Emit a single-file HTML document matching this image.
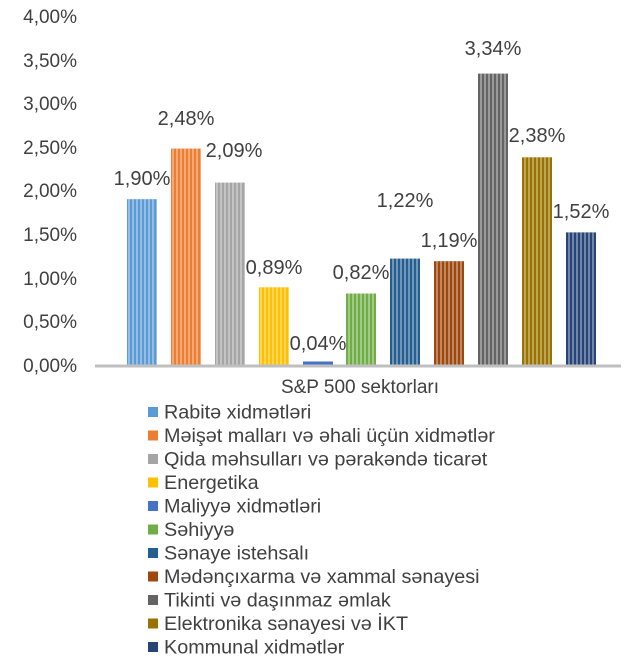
<!DOCTYPE html>
<html><head><meta charset="utf-8"><style>
body{margin:0;background:#fff;width:641px;height:661px;overflow:hidden;}
</style></head><body>
<svg width="641" height="661" xmlns="http://www.w3.org/2000/svg" font-family="Liberation Sans, sans-serif" fill="#404040">
<defs>
<pattern id="st" width="4" height="10" patternUnits="userSpaceOnUse"><rect width="2" height="10" fill="#fff" opacity="0.35"/></pattern>
</defs>
<g font-size="19" text-anchor="end">
<text x="77" y="23">4,00%</text><text x="77" y="67">3,50%</text><text x="77" y="110">3,00%</text>
<text x="77" y="154">2,50%</text><text x="77" y="197">2,00%</text><text x="77" y="241">1,50%</text>
<text x="77" y="285">1,00%</text><text x="77" y="328">0,50%</text><text x="77" y="372">0,00%</text>
</g>
<g>
<rect x="127" y="199.2" width="30" height="165.8" fill="#5b9bd5"/>
<rect x="171" y="148.6" width="30" height="216.4" fill="#ed7d31"/>
<rect x="215" y="182.6" width="30" height="182.4" fill="#a5a5a5"/>
<rect x="259" y="287.3" width="30" height="77.7" fill="#ffc000"/>
<rect x="303" y="361.5" width="30" height="3.5" fill="#4472c4"/>
<rect x="346" y="293.5" width="30" height="71.5" fill="#70ad47"/>
<rect x="390" y="258.6" width="30" height="106.4" fill="#255e91"/>
<rect x="434" y="261.2" width="30" height="103.8" fill="#9e480e"/>
<rect x="478" y="73.6" width="30" height="291.4" fill="#636363"/>
<rect x="522" y="157.3" width="30" height="207.7" fill="#997300"/>
<rect x="566" y="232.4" width="30" height="132.6" fill="#264478"/>
</g>
<g fill="url(#st)">
<rect x="127" y="199.2" width="30" height="165.8"/>
<rect x="171" y="148.6" width="30" height="216.4"/>
<rect x="215" y="182.6" width="30" height="182.4"/>
<rect x="259" y="287.3" width="30" height="77.7"/>
<rect x="346" y="293.5" width="30" height="71.5"/>
<rect x="390" y="258.6" width="30" height="106.4"/>
<rect x="434" y="261.2" width="30" height="103.8"/>
<rect x="478" y="73.6" width="30" height="291.4"/>
<rect x="522" y="157.3" width="30" height="207.7"/>
<rect x="566" y="232.4" width="30" height="132.6"/>
</g>
<g font-size="20" text-anchor="middle">
<text x="142" y="185">1,90%</text>
<text x="186" y="125">2,48%</text>
<text x="234" y="157">2,09%</text>
<text x="274" y="274">0,89%</text>
<text x="318" y="350">0,04%</text>
<text x="361" y="279">0,82%</text>
<text x="405" y="207">1,22%</text>
<text x="449" y="247">1,19%</text>
<text x="493" y="55">3,34%</text>
<text x="537" y="142">2,38%</text>
<text x="581" y="218">1,52%</text>
</g>
<line x1="95" y1="366" x2="621" y2="366" stroke="#bfbfbf" stroke-width="3"/>
<text x="360" y="393" font-size="19" text-anchor="middle">S&amp;P 500 sektorları</text>
<g font-size="19.8">
<rect x="148" y="407" width="10" height="10" fill="#5b9bd5"/><text x="164" y="418.5">Rabitə xidmətləri</text>
<rect x="148" y="430.5" width="10" height="10" fill="#ed7d31"/><text x="164" y="442">Məişət malları və əhali üçün xidmətlər</text>
<rect x="148" y="454" width="10" height="10" fill="#a5a5a5"/><text x="164" y="465.5">Qida məhsulları və pərakəndə ticarət</text>
<rect x="148" y="477.5" width="10" height="10" fill="#ffc000"/><text x="164" y="489">Energetika</text>
<rect x="148" y="501" width="10" height="10" fill="#4472c4"/><text x="164" y="512.5">Maliyyə xidmətləri</text>
<rect x="148" y="524.5" width="10" height="10" fill="#70ad47"/><text x="164" y="536">Səhiyyə</text>
<rect x="148" y="548" width="10" height="10" fill="#255e91"/><text x="164" y="559.5">Sənaye istehsalı</text>
<rect x="148" y="571.5" width="10" height="10" fill="#9e480e"/><text x="164" y="583">Mədənçıxarma və xammal sənayesi</text>
<rect x="148" y="595" width="10" height="10" fill="#636363"/><text x="164" y="606.5">Tikinti və daşınmaz əmlak</text>
<rect x="148" y="618.5" width="10" height="10" fill="#997300"/><text x="164" y="630">Elektronika sənayesi və İKT</text>
<rect x="148" y="642" width="10" height="10" fill="#264478"/><text x="164" y="653.5">Kommunal xidmətlər</text>
</g>
</svg>
</body></html>
